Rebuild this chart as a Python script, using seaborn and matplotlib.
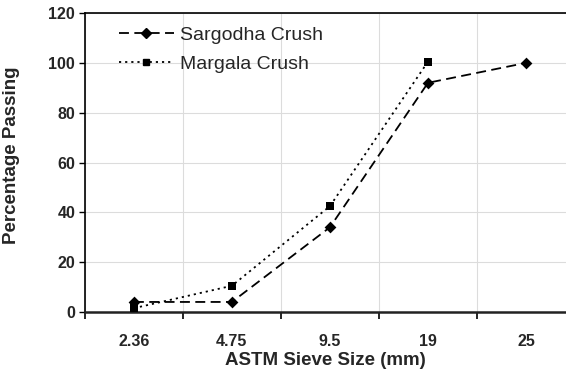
import numpy as np
import pandas as pd
import matplotlib
matplotlib.use("Agg")
import matplotlib.pyplot as plt
from matplotlib.lines import Line2D
import seaborn as sns

sieve_sizes = ["2.36", "4.75", "9.5", "19", "25"]
sargodha = [4.0, 4.0, 34.0, 92.0, 100.0]
margala = [1.5, 10.5, 42.5, 100.5]

sns.set_theme(style="white")
plt.rcParams["font.family"] = ["Liberation Sans", "DejaVu Sans"]

fig = plt.figure(figsize=(5.66, 3.74), dpi=100)
ax = fig.add_axes([0.150, 0.166, 0.850, 0.799])

series = [
    ("Sargodha Crush", sargodha, (0, (5.5, 3)), "D", 6.0),
    ("Margala Crush", margala, (0, (1.2, 2.2)), "s", 5.5),
]

handles = []
for name, vals, dash, marker, ms in series:
    xi = np.arange(len(vals))
    pts = pd.DataFrame({"x": xi, "y": vals})
    sns.lineplot(data=pts, x="x", y="y", ax=ax, color="black", lw=1.3,
                 sort=False, estimator=None)
    ax.lines[-1].set_linestyle(dash)
    sns.scatterplot(data=pts, x="x", y="y", ax=ax, color="black", marker=marker,
                    s=ms ** 2, edgecolor="black", linewidth=0, zorder=5)
    handles.append(Line2D([], [], color="black", lw=1.3, linestyle=dash,
                          marker=marker, markersize=ms * 0.8, label=name))

ax.set_xlim(-0.5, 4.408)
ax.set_ylim(0, 120)
ax.set_yticks(np.arange(0, 121, 20))
ax.set_xticks(np.arange(len(sieve_sizes)))
ax.set_xticklabels(sieve_sizes)
ax.set_xticks(np.arange(len(sieve_sizes)) - 0.5, minor=True)

ax.grid(True, axis="y", color="#dcdcdc", lw=0.8)
ax.grid(True, axis="x", which="minor", color="#dcdcdc", lw=0.8)
ax.grid(False, axis="x", which="major")
ax.set_axisbelow(True)

ax.tick_params(axis="x", which="major", length=0, pad=16, labelsize=11.5)
ax.tick_params(axis="x", which="minor", length=5, width=1.2, direction="out", color="black", bottom=True)
ax.tick_params(axis="y", length=4, width=1, direction="out", color="black", left=True, labelsize=11.5, pad=3)
for lab in ax.get_xticklabels() + ax.get_yticklabels():
    lab.set_fontweight("bold")

for side in ["left", "top"]:
    ax.spines[side].set_color("black")
    ax.spines[side].set_linewidth(1.2)
ax.spines["bottom"].set_color("#222222")
ax.spines["bottom"].set_linewidth(1.8)
ax.spines["right"].set_visible(False)

ax.set_xlabel("ASTM Sieve Size (mm)", fontsize=13.5, fontweight="bold", labelpad=2)
ax.set_ylabel("Percentage Passing", fontsize=13.5, fontweight="bold")
ax.yaxis.set_label_coords(-0.135, 0.525)

ax.legend(handles=handles, loc="upper left", frameon=False, fontsize=14,
          handlelength=2.8, handletextpad=0.3, labelspacing=0.6,
          bbox_to_anchor=(0.035, 1.015))

fig.savefig("out.png", dpi=100)
